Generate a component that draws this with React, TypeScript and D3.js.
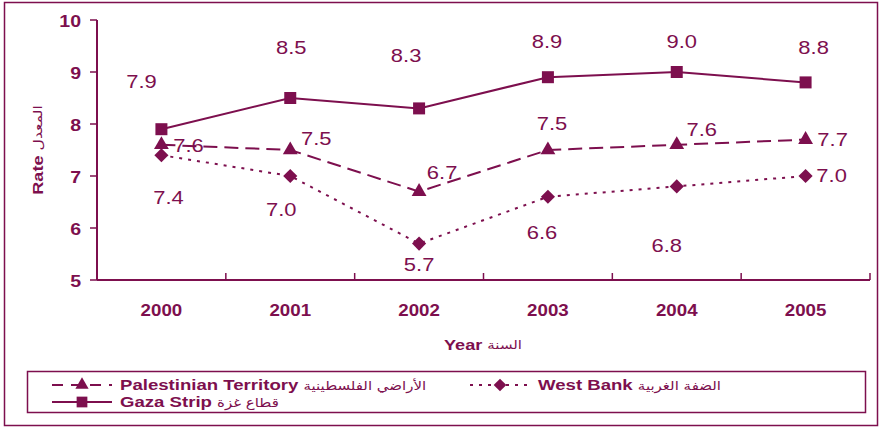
import { useEffect, useRef } from 'react'
import * as d3 from 'd3'

const years = ['2000', '2001', '2002', '2003', '2004', '2005']
const palestinian = [7.6, 7.5, 6.7, 7.5, 7.6, 7.7]
const westBank = [7.4, 7.0, 5.7, 6.6, 6.8, 7.0]
const gaza = [7.9, 8.5, 8.3, 8.9, 9.0, 8.8]
const yTicks = [5, 6, 7, 8, 9, 10]

// label offsets from each point (dx, dy)
const ptLabelOff = [[27, 1], [26, -11], [23, -19], [4, -26], [25, -15], [27, 0]]
const wbLabelOff = [[7, 43], [-9, 34], [0, 21], [-6, 36], [-10, 59], [26, 0]]
const gzLabelOff = [[-20, -47], [1, -50], [-13, -53], [-1, -35], [5, -30], [8, -35]]

const COLOR = '#7d0f4e'
const FONT = '"Liberation Sans", Arial, sans-serif'
const AR_FONT = '"DejaVu Sans", sans-serif'

function App() {
  const svgRef = useRef<SVGSVGElement | null>(null)

  useEffect(() => {
    const width = 881
    const height = 429
    const svg = d3.select(svgRef.current)
    svg.selectAll('*').remove()
    svg.attr('width', width).attr('height', height)

    // stretched text, like the original picture
    const txt = (g: any, x: number, y: number, sx: number, anchor: string) =>
      g.append('text')
        .attr('transform', `translate(${x},${y}) scale(${sx},1)`)
        .attr('text-anchor', anchor).attr('dominant-baseline', 'central')
        .attr('fill', COLOR).attr('font-family', FONT)

    svg.append('rect').attr('width', width).attr('height', height).attr('fill', '#fff')
    svg.append('rect')
      .attr('x', 4.5).attr('y', 2.5).attr('width', 873).attr('height', 423)
      .attr('fill', 'none').attr('stroke', COLOR).attr('stroke-width', 1.5)

    const x = d3.scaleBand().domain(years).range([97, 870])
    const y = d3.scaleLinear().domain([5, 10]).range([280, 20])
    const cx = (d: string) => (x(d) as number) + x.bandwidth() / 2

    // y axis
    svg.append('line')
      .attr('x1', 97).attr('x2', 97).attr('y1', y(10)).attr('y2', y(5))
      .attr('stroke', COLOR).attr('stroke-width', 2)
    yTicks.forEach(t => {
      svg.append('line')
        .attr('x1', 90).attr('x2', 97).attr('y1', y(t)).attr('y2', y(t))
        .attr('stroke', COLOR).attr('stroke-width', 1.5)
      txt(svg, 81, y(t) + 1, 1.15, 'end')
        .attr('font-size', '17px').attr('font-weight', 'bold').text(String(t))
    })

    // x axis
    svg.append('line')
      .attr('x1', 97).attr('x2', 870).attr('y1', 280).attr('y2', 280)
      .attr('stroke', COLOR).attr('stroke-width', 2)
    years.forEach(yr => {
      const bx = (x(yr) as number) + x.bandwidth()
      svg.append('line')
        .attr('x1', bx).attr('x2', bx).attr('y1', 280).attr('y2', 273)
        .attr('stroke', COLOR).attr('stroke-width', 1.5)
      txt(svg, cx(yr), 310, 1.17, 'middle')
        .attr('font-size', '16px').attr('font-weight', 'bold').text(yr)
    })

    // axis titles
    const xt = txt(svg, 483, 345, 1.25, 'middle')
    xt.append('tspan').attr('font-weight', 'bold').attr('font-size', '14.5px').text('Year ')
    xt.append('tspan').attr('font-size', '12px').attr('font-family', AR_FONT).text('السنة')

    const yt = svg.append('text')
      .attr('transform', 'translate(38,150) rotate(-90) scale(1.25,1)')
      .attr('text-anchor', 'middle').attr('dominant-baseline', 'central')
      .attr('fill', COLOR).attr('font-family', FONT)
    yt.append('tspan').attr('font-weight', 'bold').attr('font-size', '14.5px').text('Rate ')
    yt.append('tspan').attr('font-size', '12.5px').attr('font-family', AR_FONT).text('المعدل')

    const line = d3.line<number>().x((_, i) => cx(years[i])).y(d => y(d))

    const series = [
      { data: palestinian, dash: '14,7', marker: d3.symbolTriangle, size: 95, rot: 0, offs: ptLabelOff },
      { data: westBank, dash: '3,6', marker: d3.symbolSquare, size: 100, rot: 45, offs: wbLabelOff },
      { data: gaza, dash: null, marker: d3.symbolSquare, size: 144, rot: 0, offs: gzLabelOff },
    ]

    series.forEach(s => {
      svg.append('path')
        .attr('d', line(s.data))
        .attr('fill', 'none').attr('stroke', COLOR).attr('stroke-width', 2)
        .attr('stroke-dasharray', s.dash)
      s.data.forEach((v, i) => {
        svg.append('path')
          .attr('d', d3.symbol().type(s.marker).size(s.size)())
          .attr('transform', `translate(${cx(years[i])},${y(v)}) rotate(${s.rot})`)
          .attr('fill', COLOR)
      })
    })

    series.forEach(s => {
      s.data.forEach((v, i) => {
        txt(svg, cx(years[i]) + s.offs[i][0], y(v) + s.offs[i][1], 1.22, 'middle')
          .attr('font-size', '18px')
          .text(v.toFixed(1))
      })
    })

    // legend
    const lg = svg.append('g')
    lg.append('rect')
      .attr('x', 27.5).attr('y', 371.5).attr('width', 838).attr('height', 41)
      .attr('fill', 'none').attr('stroke', COLOR).attr('stroke-width', 1.5)

    const legendItems = [
      { label: 'Palestinian Territory', ar: 'الأراضي الفلسطينية', s: series[0], dash: '11,8', lx: 52, ly: 385 },
      { label: 'West Bank', ar: 'الضفة الغربية', s: series[1], dash: '3,6', lx: 470, ly: 385 },
      { label: 'Gaza Strip', ar: 'قطاع غزة', s: series[2], dash: null, lx: 52, ly: 402 },
    ]
    legendItems.forEach(it => {
      lg.append('line')
        .attr('x1', it.lx).attr('x2', it.lx + 60).attr('y1', it.ly).attr('y2', it.ly)
        .attr('stroke', COLOR).attr('stroke-width', 2)
        .attr('stroke-dasharray', it.dash)
      lg.append('path')
        .attr('d', d3.symbol().type(it.s.marker).size(it.s.size * 0.8)())
        .attr('transform', `translate(${it.lx + 30},${it.ly}) rotate(${it.s.rot})`)
        .attr('fill', COLOR)
      const t = txt(lg, it.lx + 68, it.ly, 1.2, 'start')
      t.append('tspan').attr('font-weight', 'bold').attr('font-size', '15.5px').text(it.label + ' ')
      t.append('tspan').attr('font-size', '12.5px').attr('font-family', AR_FONT).text(it.ar)
    })
  }, [])

  return <svg ref={svgRef} style={{ display: 'block', position: 'absolute', left: 0, top: 0 }} />
}

export default App
